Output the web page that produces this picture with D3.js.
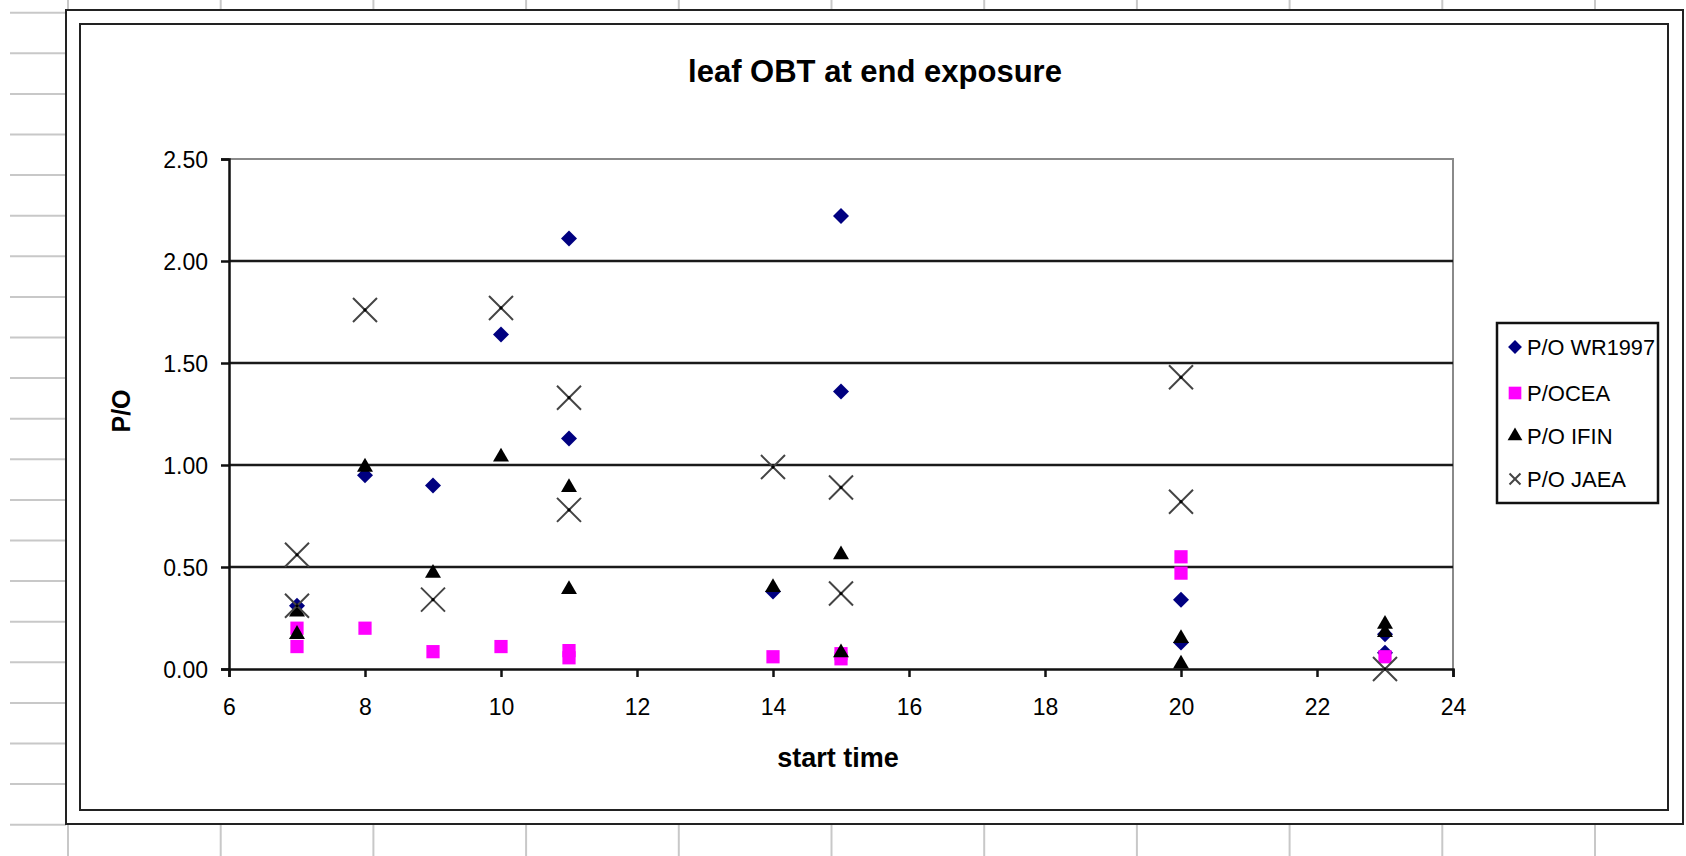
<!DOCTYPE html>
<html>
<head>
<meta charset="utf-8">
<script src="https://cdn.jsdelivr.net/npm/d3@7/dist/d3.min.js"></script>
<style>
  body { margin: 0; background: #fff; }
  text { font-family: "Liberation Sans", Arial, sans-serif; fill: #000; }
</style>
</head>
<body>
<div id="chart"></div>
<script>
// values
const seriesNames = ["P/O WR1997", "P/OCEA", "P/O IFIN", "P/O JAEA"];

const wrX = [7, 8, 9, 10, 11, 11, 14, 15, 15, 20, 20, 23, 23];
const wrY = [0.31, 0.95, 0.90, 1.64, 2.11, 1.13, 0.38, 2.22, 1.36, 0.34, 0.13, 0.17, 0.08];

const ceaX = [7, 7, 8, 9, 10, 11, 11, 14, 15, 15, 20, 20, 23];
const ceaY = [0.20, 0.11, 0.20, 0.085, 0.11, 0.09, 0.055, 0.06, 0.075, 0.05, 0.55, 0.47, 0.06];

const ifinX = [7, 7, 8, 9, 10, 11, 11, 14, 15, 15, 20, 20, 23, 23];
const ifinY = [0.28, 0.17, 0.99, 0.47, 1.04, 0.89, 0.39, 0.40, 0.56, 0.08, 0.15, 0.025, 0.22, 0.18];

const jaeaX = [7, 7, 8, 9, 10, 11, 11, 14, 15, 15, 20, 20, 23];
const jaeaY = [0.56, 0.31, 1.76, 0.34, 1.77, 1.33, 0.78, 0.99, 0.89, 0.37, 1.43, 0.82, 0.0];

const xTicks = [6, 8, 10, 12, 14, 16, 18, 20, 22, 24];
const yTicks = [0, 0.5, 1.0, 1.5, 2.0, 2.5];

const W = 1686, H = 856;
const plot = { left: 229, right: 1453, top: 159, bottom: 669 };

const svg = d3.select("#chart").append("svg")
  .attr("width", W)
  .attr("height", H);

// spreadsheet cells behind the chart object
const sheet = svg.append("g").attr("stroke", "#c8c8c8").attr("stroke-width", 2);
for (let y = 12.7; y < H; y += 40.6) {
  sheet.append("line").attr("x1", 10).attr("x2", 66).attr("y1", y).attr("y2", y);
}
for (let x = 68; x < W; x += 152.7) {
  sheet.append("line").attr("x1", x).attr("x2", x).attr("y1", 0).attr("y2", 10);
  sheet.append("line").attr("x1", x).attr("x2", x).attr("y1", 824).attr("y2", H);
}

// double chart frame
svg.append("rect")
  .attr("x", 66).attr("y", 10).attr("width", 1683 - 66).attr("height", 824 - 10)
  .attr("fill", "#fff").attr("stroke", "#222").attr("stroke-width", 2);
svg.append("rect")
  .attr("x", 80).attr("y", 24).attr("width", 1668 - 80).attr("height", 810 - 24)
  .attr("fill", "#fff").attr("stroke", "#222").attr("stroke-width", 2);

const x = d3.scaleLinear().domain([6, 24]).range([plot.left, plot.right]);
const y = d3.scaleLinear().domain([0, 2.5]).range([plot.bottom, plot.top]);

// plot area border (top/right grey)
svg.append("path")
  .attr("d", `M${plot.left},${plot.top}H${plot.right}V${plot.bottom}`)
  .attr("fill", "none").attr("stroke", "#8a8a8a").attr("stroke-width", 2);

// gridlines
svg.append("g")
  .selectAll("line")
  .data(yTicks.filter(d => d > 0 && d < 2.5))
  .enter().append("line")
  .attr("x1", plot.left).attr("x2", plot.right)
  .attr("y1", d => y(d)).attr("y2", d => y(d))
  .attr("stroke", "#1a1a1a").attr("stroke-width", 2.5);

// axes
const xAxis = svg.append("g")
  .attr("transform", `translate(0,${plot.bottom})`)
  .call(d3.axisBottom(x).tickValues(xTicks).tickSize(8).tickPadding(22).tickFormat(d3.format("d")));
const yAxis = svg.append("g")
  .attr("transform", `translate(${plot.left},0)`)
  .call(d3.axisLeft(y).tickValues(yTicks).tickSize(8).tickPadding(13).tickFormat(d3.format(".2f")));

[xAxis, yAxis].forEach(a => {
  a.select(".domain").attr("stroke", "#111").attr("stroke-width", 2.5);
  a.selectAll(".tick line").attr("stroke", "#111").attr("stroke-width", 2.5);
  a.selectAll(".tick text")
    .style("font-family", '"Liberation Sans", Arial, sans-serif')
    .style("font-size", "23px").attr("fill", "#111");
});
yAxis.selectAll(".tick text").attr("dy", "0.36em");

// titles
svg.append("text")
  .attr("x", 875).attr("y", 82)
  .attr("text-anchor", "middle")
  .style("font-size", "31px").style("font-weight", "bold")
  .text("leaf OBT at end exposure");

svg.append("text")
  .attr("x", 838).attr("y", 767)
  .attr("text-anchor", "middle")
  .style("font-size", "27px").style("font-weight", "bold")
  .text("start time");

svg.append("text")
  .attr("transform", "translate(130,411) rotate(-90)")
  .attr("text-anchor", "middle")
  .style("font-size", "25px").style("font-weight", "bold")
  .text("P/O");

// marker shapes
const crossX = {
  draw(ctx, size) {
    const r = Math.sqrt(size) / 2;
    ctx.moveTo(-r, -r); ctx.lineTo(r, r);
    ctx.moveTo(r, -r); ctx.lineTo(-r, r);
  }
};

const series = [
  { name: seriesNames[0], xs: wrX, ys: wrY, type: d3.symbolSquare, size: 128, rot: 45, fill: "#000080", stroke: "none", lsize: 96 },
  { name: seriesNames[1], xs: ceaX, ys: ceaY, type: d3.symbolSquare, size: 175, rot: 0, fill: "#ff00ff", stroke: "none", lsize: 160 },
  { name: seriesNames[2], xs: ifinX, ys: ifinY, type: d3.symbolTriangle, size: 110, rot: 0, fill: "#000", stroke: "none", lsize: 95 },
  { name: seriesNames[3], xs: jaeaX, ys: jaeaY, type: crossX, size: 576, rot: 0, fill: "none", stroke: "#444", lsize: 120 }
];

series.forEach(s => {
  const pts = s.xs.map((v, i) => ({ x: v, y: s.ys[i] }));
  const g = svg.append("g");
  g.selectAll("path")
    .data(pts)
    .enter().append("path")
    .attr("transform", d => `translate(${x(d.x)},${y(d.y)}) rotate(${s.rot})`)
    .attr("d", d3.symbol().type(s.type).size(s.size))
    .attr("fill", s.fill)
    .attr("stroke", s.stroke)
    .attr("stroke-width", 2);
  if (s.type === crossX) {
    g.selectAll("circle")
      .data(pts)
      .enter().append("circle")
      .attr("cx", d => x(d.x)).attr("cy", d => y(d.y))
      .attr("r", 1.6).attr("fill", "#000");
  }
});

// legend
const legend = svg.append("g");
legend.append("rect")
  .attr("x", 1497).attr("y", 323).attr("width", 161).attr("height", 180)
  .attr("fill", "#fff").attr("stroke", "#111").attr("stroke-width", 2.5);

const rowY = [347, 393, 436, 479];
series.forEach((s, i) => {
  legend.append("path")
    .attr("transform", `translate(1515,${rowY[i]}) rotate(${s.rot})`)
    .attr("d", d3.symbol().type(s.type).size(s.lsize))
    .attr("fill", s.fill)
    .attr("stroke", s.stroke)
    .attr("stroke-width", 2);
  const t = legend.append("text")
    .attr("x", 1527).attr("y", rowY[i])
    .attr("dy", "0.36em")
    .style("font-size", "22px")
    .text(s.name);
  if (i === 0) t.attr("textLength", 128).attr("lengthAdjust", "spacingAndGlyphs");
});
</script>
</body>
</html>
